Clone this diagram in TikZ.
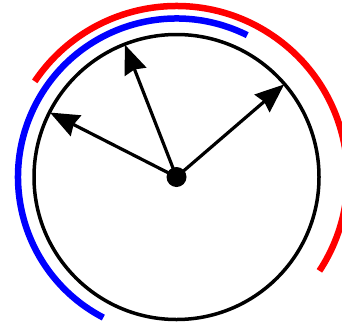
\documentclass[tikz,border=0pt]{standalone}
\usetikzlibrary{arrows.meta}
\begin{document}
\begin{tikzpicture}[x=1pt,y=-1pt,
  rim/.style={line width=3.5pt,black},
  hand/.style={line width=3.2pt,-{Stealth[length=29pt,width=23pt,inset=2.5pt]}},
  bluearc/.style={line width=6.5pt,blue},
  redarc/.style={line width=6.5pt,red}]
\useasboundingbox (0,0) rectangle (342,327);
\coordinate (c) at (176.5,177);
\draw[rim] (c) circle[radius=142.5];
\draw[bluearc] ([shift={(-63.5:158.5)}]c) arc[start angle=-63.5,end angle=-242.5,radius=158.5];
\draw[redarc] ([shift={(-146:171)}]c) arc[start angle=-146,end angle=33.3,radius=171];
\coordinate (p1) at ([shift={(-153:142)}]c);
\coordinate (p2) at ([shift={(-111.3:142)}]c);
\coordinate (p3) at ([shift={(-40.7:142)}]c);
\draw[hand] (c) -- (p1);
\draw[hand] (c) -- (p2);
\draw[hand] (c) -- (p3);
\node[circle,fill=black,minimum size=20pt,inner sep=0pt] (dot) at (c) {};
\end{tikzpicture}
\end{document}
